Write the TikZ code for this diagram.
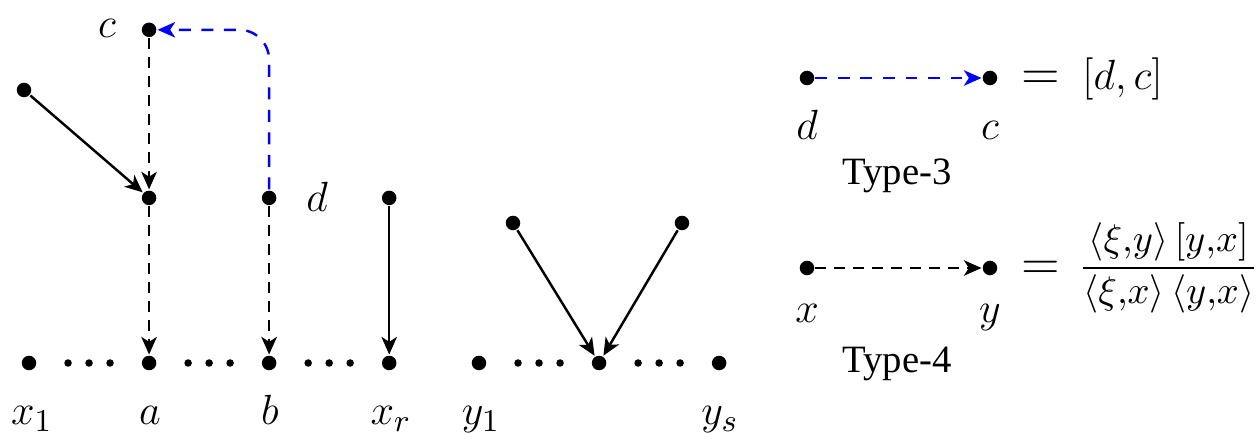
\documentclass[tikz,border=0pt]{standalone}
\usepackage{amsmath}
\usepackage{fontspec}
\setmainfont{Liberation Serif}
\usetikzlibrary{arrows.meta,calc}

\begin{document}
\begin{tikzpicture}[x=0.01cm,y=0.01cm,line width=0.7pt,node distance=1.2cm,-{Stealth[length=5pt,width=4.4pt,inset=1.4pt]}]

  \tikzstyle{vtx}=[circle,fill=black,inner sep=0pt,minimum size=0.145cm]
  \tikzstyle{smalldot}=[circle,fill=black,inner sep=0pt,minimum size=0.075cm]
  \tikzstyle{lbl}=[anchor=base,inner sep=0pt,font=\fontsize{12.5}{15}\selectfont]
  \tikzstyle{eqlbl}=[anchor=base west,inner sep=0pt,font=\fontsize{14}{16}\selectfont]
  \tikzstyle{typelbl}=[anchor=base,inner sep=0pt,font=\fontsize{11}{13}\rmfamily]
  \tikzstyle{blackdash}=[dash pattern=on 3pt off 2.4pt]
  \tikzstyle{bluedash}=[blue,dash pattern=on 3.4pt off 3pt]

  \useasboundingbox (0,0) rectangle (1259,448);

  % bottom row
  \node[vtx] (x1) at (29,85)    {};
  \node[vtx] (a)  [right of=x1] {};
  \node[vtx] (b)  [right of=a]  {};
  \node[vtx] (xr) [right of=b]  {};
  \node[vtx] (y1) at (479,85)   {};
  \node[vtx] (m)  [right of=y1] {};
  \node[vtx] (ys) [right of=m]  {};

  \foreach \u/\v in {x1/a,a/b,b/xr,y1/m,m/ys}
    \foreach \k [count=\i] in {-21,0,21}
      \node[smalldot] (\u-dot\i) at ($(\u)!0.5!(\v)+(\k,0)$) {};

  % upper vertices
  \node[vtx] (atop)  [above of=a,node distance=1.65cm]    {};
  \node[vtx] (btop)  [above of=b,node distance=1.65cm]    {};
  \node[vtx] (xrtop) [above of=xr,node distance=1.65cm]   {};
  \node[vtx] (c)     [above of=atop,node distance=1.68cm] {};
  \node[vtx] (w)  at (24,358)  {};
  \node[vtx] (p)  at (513,225) {};
  \node[vtx] (q)  at (682,225) {};

  % labels
  \node[lbl] (lx1) at (32,23)  {$x_1$};
  \node[lbl] (la)  at (150,23) {$a$};
  \node[lbl] (lb)  at (270,23) {$b$};
  \node[lbl] (lxr) at (391,23) {$x_r$};
  \node[lbl] (ly1) at (481,23) {$y_1$};
  \node[lbl] (lys) at (720,23) {$y_s$};
  \node[lbl] (lc)  at (107,410) {$c$};
  \node[lbl] (ld)  at (317,236) {$d$};

  \draw (w) -- (atop);
  \draw[blackdash] (c) -- (atop);
  \draw[blackdash] (atop) -- (a);
  \draw[blackdash] (btop) -- (b);
  \draw (xrtop) -- (xr);
  \draw (p) -- (m);
  \draw (q) -- (m);
  \draw[bluedash,rounded corners=0.3cm] (btop) |- (c);

  % legend
  \node[vtx] (t3d) at (807,370) {};
  \node[vtx] (t3c) at (990,370) {};
  \draw[bluedash] (t3d) -- (t3c);
  \node[lbl] (t3dl) at (807,308) {$d$};
  \node[lbl] (t3cl) at (990,308) {$c$};
  \node[eqlbl] (t3eq) at (1020,358) {$=$};
  \node[lbl,anchor=base west,font=\fontsize{13}{15}\selectfont] (t3br) at (1081,358) {$[d,c]$};
  \node[typelbl] (t3) at (897,263) {Type-3};

  \node[vtx] (t4x) at (807,180) {};
  \node[vtx] (t4y) at (990,180) {};
  \draw[blackdash] (t4x) -- (t4y);
  \node[lbl] (t4xl) at (807,125) {$x$};
  \node[lbl] (t4yl) at (990,125) {$y$};
  \node[eqlbl] (t4eq) at (1020,168) {$=$};
  \node[anchor=west,inner sep=0pt,font=\fontsize{11}{13}\selectfont] (t4frac) at (1078,180)
    {$\dfrac{\langle\xi{,}y\rangle\,[y{,}x]}{\langle\xi{,}x\rangle\,\langle y{,}x\rangle}$};
  \node[typelbl] (t4) at (897,75) {Type-4};

\end{tikzpicture}
\end{document}
